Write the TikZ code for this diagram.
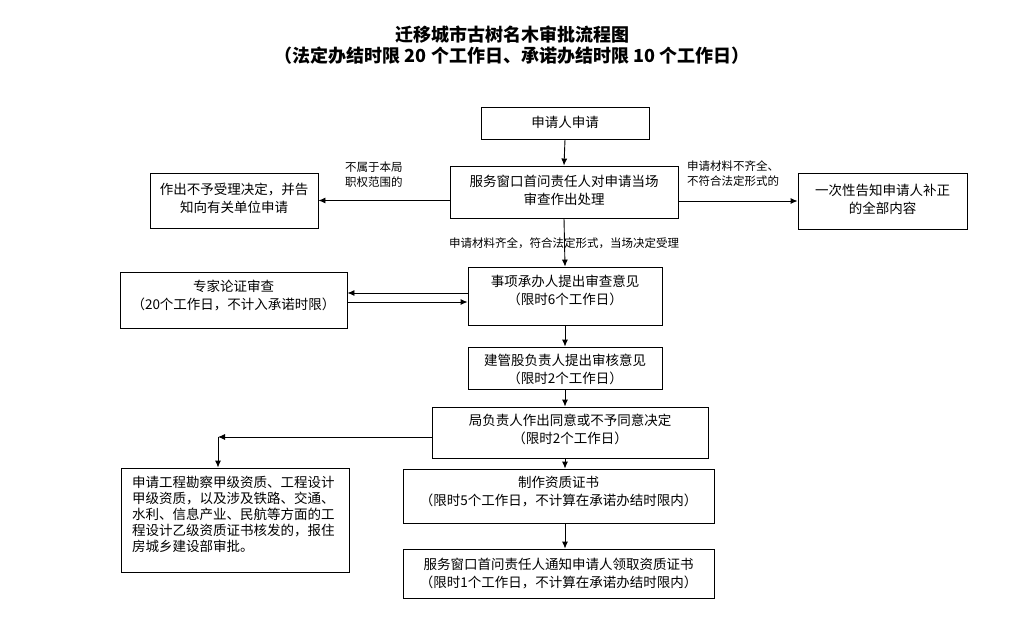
\documentclass[tikz,border=0pt]{standalone}
\usepackage{fontspec}
\setmainfont{Noto Sans CJK SC}
\usetikzlibrary{arrows.meta}
\begin{document}
\begin{tikzpicture}[x=1pt,y=-1pt,
  box/.style={draw,line width=0.9pt,inner sep=0pt},
  txt/.style={inner sep=0pt,align=center,font=\fontsize{13.5}{18}\selectfont},
  ltxt/.style={inner sep=0pt,align=left,font=\fontsize{13.5}{16}\selectfont},
  lbl/.style={inner sep=0pt,align=left,font=\fontsize{11.5}{15}\selectfont},
  arr/.style={line width=0.9pt,-{Latex[length=7pt,width=6pt]}},
  ttl/.style={inner sep=0pt,align=center,font=\fontsize{18}{21}\selectfont\bfseries}]
\useasboundingbox (0,0) rectangle (1033,635);

% title
\node[ttl] (title) at (512,45.5) {迁移城市古树名木审批流程图\\（法定办结时限 20 个工作日、承诺办结时限 10 个工作日）};

% boxes
\node[box,minimum width=168pt,minimum height=32pt] (apply) at (565,123) {};
\node[box,minimum width=228pt,minimum height=52pt] (service) at (564,192) {};
\node[box,minimum width=168pt,minimum height=55pt] (reject) at (234,200.5) {};
\node[box,minimum width=169pt,minimum height=56pt] (inform) at (882.5,201) {};
\node[box,minimum width=194pt,minimum height=58pt] (handle) at (565,296) {};
\node[box,minimum width=227pt,minimum height=56pt] (expert) at (233.5,300) {};
\node[box,minimum width=194pt,minimum height=42pt] (review) at (565,368) {};
\node[box,minimum width=276pt,minimum height=51pt] (decide) at (570,432.5) {};
\node[box,minimum width=311pt,minimum height=54pt] (make) at (558.5,496) {};
\node[box,minimum width=311pt,minimum height=49pt] (notice) at (558.5,573.5) {};
\node[box,minimum width=228pt,minimum height=104pt] (ministry) at (235,520) {};

% box texts
\node[txt] (applyt) at (565,122) {申请人申请};
\node[txt] (servicet) at (564,190.5) {服务窗口首问责任人对申请当场\\审查作出处理};
\node[txt] (rejectt) at (234,198) {作出不予受理决定，并告\\知向有关单位申请};
\node[txt] (informt) at (882.5,199) {一次性告知申请人补正\\的全部内容};
\node[txt] (handlet) at (565,290.5) {事项承办人提出审查意见\\（限时6个工作日）};
\node[txt] (expertt) at (233.5,295.5) {专家论证审查\\（20个工作日，不计入承诺时限）};
\node[txt] (reviewt) at (565,369.5) {建管股负责人提出审核意见\\（限时2个工作日）};
\node[txt] (decidet) at (570,429) {局负责人作出同意或不予同意决定\\（限时2个工作日）};
\node[txt] (maket) at (558.5,492) {制作资质证书\\（限时5个工作日，不计算在承诺办结时限内）};
\node[txt] (noticet) at (558.5,574) {服务窗口首问责任人通知申请人领取资质证书\\（限时1个工作日，不计算在承诺办结时限内）};
\node[ltxt,anchor=west] (ministryt) at (132,514) {申请工程勘察甲级资质、工程设计\\甲级资质，以及涉及铁路、交通、\\水利、信息产业、民航等方面的工\\程设计乙级资质证书核发的，报住\\房城乡建设部审批。};

% labels
\node[lbl,anchor=west] (lab1) at (345,174.5) {不属于本局\\职权范围的};
\node[lbl,anchor=west] (lab2) at (687,174) {申请材料不齐全、\\不符合法定形式的};
\node[lbl] (lab3) at (564,243) {申请材料齐全，符合法定形式，当场决定受理};

% connectors
\draw[arr] (apply.south) -- (service.north);
\draw[arr] (service.west |- reject.east) -- (reject.east);
\draw[arr] (service.east |- inform.west) -- (inform.west);
\draw[arr] (service.south) -- (handle.north);
\coordinate (eu) at ([yshift=7pt]expert.east);
\coordinate (el) at ([yshift=-2pt]expert.east);
\draw[arr] (handle.west |- eu) -- (eu);
\draw[arr] (el) -- (handle.west |- el);
\draw[arr] (handle.south) -- (review.north);
\draw[arr] (review.south) -- (review.south |- decide.north);
\draw[arr] (review.south |- decide.south) -- (review.south |- make.north);
\draw[arr] (review.south |- make.south) -- (review.south |- notice.north);
\coordinate (corner) at (218,437);
\draw[arr] (decide.west |- corner) -- (corner);
\draw[arr] (corner) -- (corner |- ministry.north);
\end{tikzpicture}
\end{document}
